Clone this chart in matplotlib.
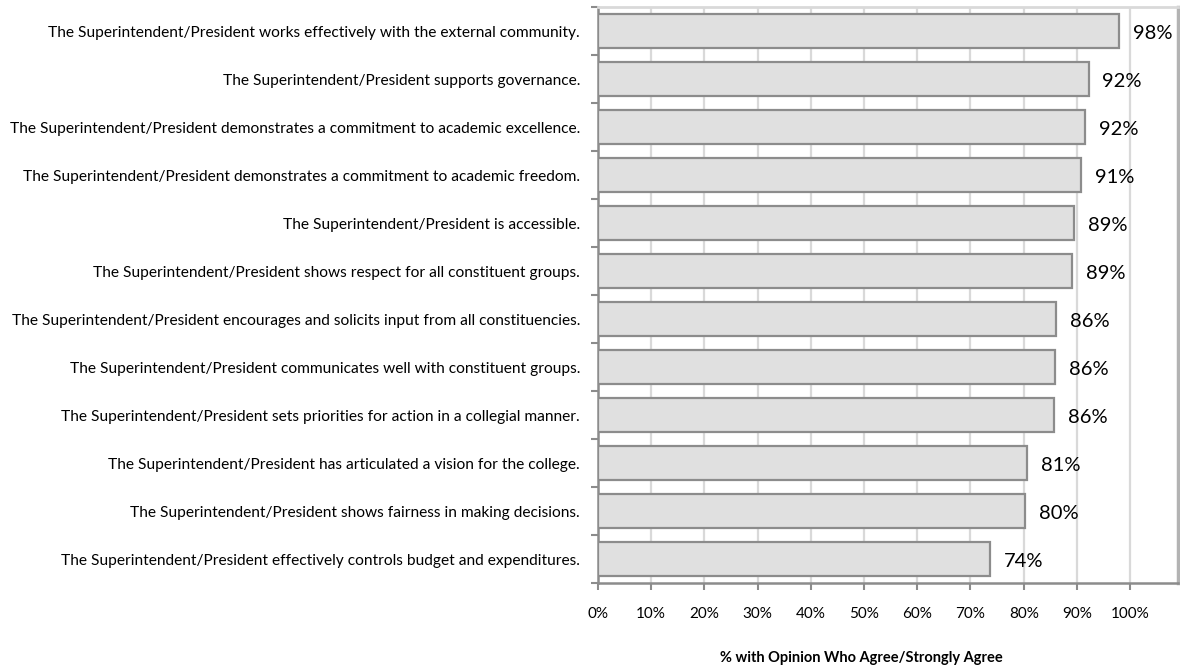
import matplotlib
matplotlib.use("Agg")
import matplotlib.pyplot as plt
import numpy as np
from matplotlib.ticker import FixedLocator, PercentFormatter

plt.rcParams['font.family'] = ['Lato', 'DejaVu Sans']

statements = [
    "The Superintendent/President works effectively with the external community.",
    "The Superintendent/President supports governance.",
    "The Superintendent/President demonstrates a commitment to academic excellence.",
    "The Superintendent/President demonstrates a commitment to academic freedom.",
    "The Superintendent/President is accessible.",
    "The Superintendent/President shows respect for all constituent groups.",
    "The Superintendent/President encourages and solicits input from all constituencies.",
    "The Superintendent/President communicates well with constituent groups.",
    "The Superintendent/President sets priorities for action in a collegial manner.",
    "The Superintendent/President has articulated a vision for the college.",
    "The Superintendent/President shows fairness in making decisions.",
    "The Superintendent/President effectively controls budget and expenditures.",
]
agree_share = [0.980, 0.922, 0.916, 0.907, 0.894, 0.891, 0.861, 0.859, 0.857, 0.806, 0.803, 0.737]
x_ticks = [0.0, 0.1, 0.2, 0.3, 0.4, 0.5, 0.6, 0.7, 0.8, 0.9, 1.0]
x_title = "% with Opinion Who Agree/Strongly Agree"

W, H = 1180, 666
fig = plt.figure(figsize=(W / 100, H / 100), dpi=100)
left, right, top, bottom = 598, 1178, 7, 583
ax = fig.add_axes([left / W, 1 - bottom / H, (right - left) / W, (bottom - top) / H])

n = len(statements)
ypos = np.arange(n)[::-1]
ax.barh(ypos, agree_share, height=0.69, color='#e0e0e0', edgecolor='#8c8c8c',
        linewidth=1.6, zorder=3)

for y, v in zip(ypos, agree_share):
    ax.annotate(f"{v * 100:.0f}%", xy=(v, y), xytext=(10, -2), textcoords='offset points',
                ha='left', va='center', fontsize=14.5, color='#000000', zorder=4)

ax.set_xlim(0, 1.09)
ax.set_ylim(-0.5, n - 0.5)

ax.xaxis.set_major_locator(FixedLocator(x_ticks))
ax.xaxis.set_major_formatter(PercentFormatter(xmax=1, decimals=0))
ax.tick_params(axis='x', direction='out', length=5, width=1.5, color='#8c8c8c',
               labelsize=11, labelcolor='#000000', pad=12)
ax.xaxis.grid(True, color='#d9d9d9', linewidth=1.6, zorder=0)
ax.set_axisbelow(True)

ax.set_yticks(ypos)
ax.set_yticklabels(statements)
ax.set_yticks(np.arange(-0.5, n, 1.0), minor=True)
ax.tick_params(axis='y', which='major', length=0, labelsize=11.15, labelcolor='#000000', pad=13)
ax.tick_params(axis='y', which='minor', direction='out', length=5, width=1.5, color='#8c8c8c')

for side in ('left', 'bottom'):
    ax.spines[side].set_color('#8c8c8c')
    ax.spines[side].set_linewidth(1.8)
ax.spines['top'].set_color('#d9d9d9')
ax.spines['top'].set_linewidth(2)
ax.spines['right'].set_color('#b3b3b3')
ax.spines['right'].set_linewidth(2.5)

fig.text(861 / W, 1 - 658 / H, x_title, ha='center', va='center', fontsize=10.5,
         fontweight='bold', color='#000000')

fig.savefig("out.png", dpi=100)
